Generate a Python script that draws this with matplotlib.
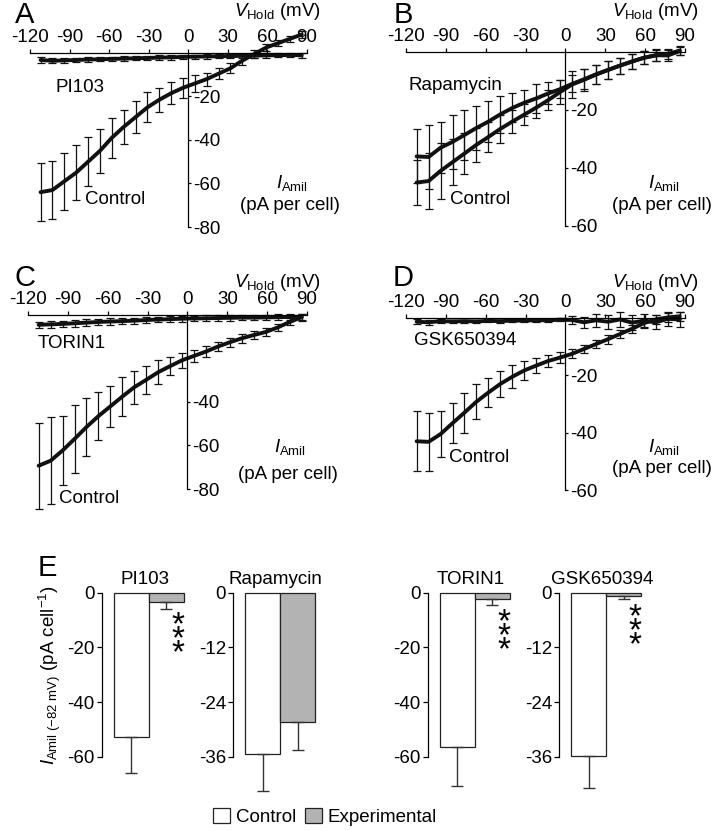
import matplotlib
matplotlib.use("Agg")
import matplotlib.pyplot as plt
from matplotlib.patches import Patch

plt.rcParams["font.family"] = ["Liberation Sans", "DejaVu Sans"]
plt.rcParams["mathtext.fontset"] = "custom"
plt.rcParams["mathtext.rm"] = "Liberation Sans"
plt.rcParams["mathtext.it"] = "Liberation Sans:italic"
plt.rcParams["mathtext.bf"] = "Liberation Sans:bold"
plt.rcParams["axes.unicode_minus"] = False

# Holding voltages (mV) where the traces and error bars are read
v_hold = [-112, -103, -94, -85, -76, -67, -58, -49, -40, -31, -22, -13, -4,
          5, 14, 23, 32, 41, 50, 59, 68, 77, 86]

# Panel A: PI103
a_ctrl = [-64, -63, -59, -55, -50, -45, -39, -34, -29.5, -25, -21.5, -18.5, -16,
          -14, -12, -9.5, -7, -3.5, -0.5, 2.5, 4.5, 6.5, 8.5]
a_ctrl_se = [13.4, 13.4, 13, 12.7, 11.2, 10.1, 9.3, 8, 7.3, 6.9, 5.5, 5, 4.6,
             3.8, 3, 2.5, 2.2, 2, 1.8, 1.6, 1.5, 1.5, 1.5]
a_drug = [-3.2, -3.6, -3.4, -3.2, -3.0, -2.9, -2.7, -2.6, -2.4, -2.3, -2.1, -2.0, -1.8,
          -1.7, -1.6, -1.5, -1.4, -1.3, -1.2, -1.1, -1.0, -0.9, -1.1]
a_drug_se = [1.2, 1.2, 1.1, 1.1, 1, 1, 1, 1, 1, 1, 1, 1, 1,
             1, 1, 1, 1, 1, 1, 1, 1, 1, 1]

# Panel B: Rapamycin
b_ctrl = [-45, -44.5, -41, -38, -35, -32, -29.3, -26.5, -24, -21.6, -19.2, -16.6, -13.8,
          -11.2, -9.6, -7.8, -6.2, -4.7, -3.3, -2, -1.2, -0.7, 0.5]
b_ctrl_se = [7.9, 9.5, 9.6, 7.9, 6.9, 5.8, 5.2, 4.9, 3.9, 3.6, 3.5, 3.5, 4,
             4.5, 3.8, 3.3, 3, 2.8, 2.5, 2.3, 2, 1.8, 1.5]
b_drug = [-36, -36.2, -33, -31, -28.6, -26.2, -24, -21.5, -19.3, -17.5, -16, -14.3, -12.8,
          -11, -9.4, -7.7, -6.2, -4.7, -3.3, -2, -1.1, -1.2, 0.3]
b_drug_se = [9.3, 11, 8.8, 9.2, 8.5, 7.6, 7.2, 6.4, 5, 4.4, 5, 3.8, 3.2,
             2.9, 3.5, 3.2, 3, 2.8, 2.5, 2.3, 2, 1.8, 1.5]

# Panel C: TORIN1
c_ctrl = [-69.3, -67, -62.3, -57, -51.5, -46.5, -42, -37.5, -33.2, -29.8, -26.3, -23.5, -20.8,
          -18.8, -16.8, -14.5, -12.5, -10.7, -9.2, -7.8, -5.7, -3.2, -1]
c_ctrl_se = [19.8, 20, 16, 15.7, 13.4, 11, 9.5, 9, 7.6, 6.4, 5.6, 4.2, 3.4,
             2.8, 2.5, 2.2, 2, 2, 1.8, 1.8, 1.6, 1.6, 1.6]
c_drug = [-4.5, -4.3, -4.1, -3.8, -3.5, -3.2, -3, -2.8, -2.6, -2.3, -2.1, -1.9, -1.7,
          -1.6, -1.5, -1.4, -1.3, -1.2, -1.2, -1.1, -1.0, -0.9, -0.8]
c_drug_se = [1.5, 1.5, 1.5, 1.5, 1.5, 1.5, 1.4, 1.4, 1.4, 1.3, 1.3, 1.3, 1.3,
             1.3, 1.3, 1.3, 1.3, 1.3, 1.3, 1.3, 1.3, 1.3, 1.3]

# Panel D: GSK650394
d_ctrl = [-43, -43.2, -40.5, -36.7, -33, -29.2, -26, -23, -20.5, -18.3, -16.6, -15, -13.8,
          -12.5, -10.8, -9.1, -7.4, -5.6, -3.8, -1.8, -0.5, 0.2, 0.6]
d_ctrl_se = [10.5, 10, 8, 7, 7, 6.2, 5.2, 4.5, 4, 3.2, 2.6, 2.1, 1.8,
             1.6, 1.5, 1.5, 1.5, 1.5, 1.5, 1.5, 1.5, 1.5, 1.5]
d_drug = [-1.3, -1.5, -1.1, -1.2, -1.1, -1.2, -1.0, -1.1, -0.9, -0.9, -0.8, -0.8, -0.6,
          -0.7, -1.5, -0.8, -1.3, -0.5, -1.6, -1.0, -1.5, -0.3, -0.5]
d_drug_se = [0.8, 0.8, 0.6, 0.5, 0.5, 0.5, 0.5, 0.5, 0.5, 0.5, 0.5, 0.5, 0.5,
             1.5, 2, 2.2, 2.5, 2.5, 2.5, 2.5, 2.5, 2.5, 2.5]

# Panel E: current at -82 mV (mean, SEM)
e_drugs = ["PI103", "Rapamycin", "TORIN1", "GSK650394"]
e_ctrl = [-52.9, -35.5, -56.3, -35.8]
e_ctrl_se = [13, 8, 14.3, 7]
e_exp = [-3.4, -28.4, -2.3, -0.73]
e_exp_se = [2.6, 6.1, 2.2, 0.7]
e_yticks = [[0, -20, -40, -60], [0, -12, -24, -36], [0, -20, -40, -60], [0, -12, -24, -36]]

W, H = 715, 830
fig = plt.figure(figsize=(W / 100, H / 100), dpi=100)
FS = 13.5
INK = "#111111"
GRAY = "#b3b3b3"


def box(l, t, r, b):
    return [l / W, 1 - b / H, (r - l) / W, (b - t) / H]


def ftxt(x, y, s, **kw):
    kw.setdefault("ha", "center")
    kw.setdefault("va", "center")
    kw.setdefault("fontsize", FS)
    fig.text(x / W, 1 - y / H, s, **kw)


def iv_panel(rect, ctrl, ctrl_se, drug, drug_se, ymin, yticks):
    ax = fig.add_axes(rect)
    ax.set_xlim(-120, 90)
    ax.set_ylim(ymin, 0)
    ax.patch.set_visible(False)
    for s in ["left", "bottom"]:
        ax.spines[s].set_visible(False)
    ax.spines["top"].set_linewidth(0.9)
    ax.spines["right"].set_position(("data", 0))
    ax.spines["right"].set_linewidth(0.9)
    ax.xaxis.tick_top()
    ax.yaxis.tick_right()
    ax.set_xticks([-120, -90, -60, -30, 0, 30, 60, 90])
    ax.set_yticks(yticks)
    ax.tick_params(axis="x", direction="out", length=3, width=0.9, pad=2, labelsize=FS)
    ax.tick_params(axis="y", direction="out", length=2.5, width=0.9, pad=1, labelsize=FS)
    for m, se in [(ctrl, ctrl_se), (drug, drug_se)]:
        eb = ax.errorbar(v_hold, m, yerr=se, fmt="none", ecolor=INK, elinewidth=0.9,
                         capsize=2.8, capthick=0.9)
        for art in list(eb.lines[1]) + list(eb.lines[2]):
            art.set_clip_on(False)
        ax.plot(v_hold, m, color=INK, lw=2.8, clip_on=False, solid_capstyle="round")
    return ax


iv_panel(box(30, 53, 307, 227), a_ctrl, a_ctrl_se, a_drug, a_drug_se, -80, [-20, -40, -60, -80])
iv_panel(box(406, 52, 685, 226), b_ctrl, b_ctrl_se, b_drug, b_drug_se, -60, [-20, -40, -60])
iv_panel(box(28, 315, 307, 489), c_ctrl, c_ctrl_se, c_drug, c_drug_se, -80, [-40, -60, -80])
iv_panel(box(406, 318, 685, 490), d_ctrl, d_ctrl_se, d_drug, d_drug_se, -60, [-20, -40, -60])

# axis titles and trace labels
v_lab = r"$V_{\mathrm{Hold}}$ (mV)"
i_lab = r"$I_{\mathrm{Amil}}$"
for x, y in [(277, 12), (655, 12), (277, 282), (655, 282)]:
    ftxt(x, y, v_lab)
for x, y1, y2 in [(290, 183, 205), (662, 183, 205), (288, 447, 474), (662, 447, 468)]:
    ftxt(x + 2, y1, i_lab)
    ftxt(x, y2, "(pA per cell)")
ftxt(80, 88, "PI103")
ftxt(115, 200, "Control")
ftxt(455, 85, "Rapamycin")
ftxt(480, 200, "Control")
ftxt(72, 343, "TORIN1")
ftxt(89, 498, "Control")
ftxt(465, 340, "GSK650394")
ftxt(479, 457, "Control")
for s, x, y in [("A", 25, 15), ("B", 403, 15), ("C", 25, 278), ("D", 403, 278), ("E", 47, 568)]:
    ftxt(x, y, s, fontsize=21)

# Panel E bar charts
e_left = [101.7, 233, 427.7, 559]
stars = [(178, 610), None, (504, 607), (635, 602)]
for i, name in enumerate(e_drugs):
    l = e_left[i]
    ax = fig.add_axes(box(l, 592.7, l + 85.75, 756.7))
    ax.set_xlim(-0.35, 2.1)
    ax.set_ylim(e_yticks[i][-1], 0)
    ax.patch.set_visible(False)
    for s in ["top", "right", "bottom"]:
        ax.spines[s].set_visible(False)
    ax.spines["left"].set_linewidth(0.9)
    ax.set_xticks([])
    ax.set_yticks(e_yticks[i])
    ax.tick_params(axis="y", direction="out", length=3.5, width=0.9, pad=1.5, labelsize=FS)
    bars = ax.bar([0.5, 1.5], [e_ctrl[i], e_exp[i]], width=1, color=["white", GRAY],
                  edgecolor="#222222", linewidth=0.9)
    for b in bars:
        b.set_clip_on(False)
    eb = ax.errorbar([0.5, 1.5], [e_ctrl[i], e_exp[i]], yerr=[[e_ctrl_se[i], e_exp_se[i]], [0, 0]],
                     fmt="none", ecolor="#333333", elinewidth=1, capsize=4.5, capthick=1)
    for art in list(eb.lines[1]) + list(eb.lines[2]):
        art.set_clip_on(False)
    ax.set_title(name, fontsize=FS, pad=6)
    if stars[i] is not None:
        sx, sy = stars[i]
        ftxt(sx, sy, "*\n*\n*", fontsize=24, va="top", linespacing=0.3)

ftxt(50, 675, r"$I_{\mathrm{Amil\ (-82\ mV)}}$ (pA cell$^{\mathrm{-1}}$)", rotation=90)

handles = [Patch(facecolor="white", edgecolor="#222222", lw=0.9),
           Patch(facecolor=GRAY, edgecolor="#222222", lw=0.9)]
fig.legend(handles, ["Control", "Experimental"], loc="center",
           bbox_to_anchor=(325 / W, 1 - 817 / H), ncol=2, frameon=False, fontsize=FS,
           handlelength=0.9, handleheight=0.9, handletextpad=0.3, columnspacing=0.5,
           borderaxespad=0, borderpad=0)

fig.savefig("out.png", dpi=100)
